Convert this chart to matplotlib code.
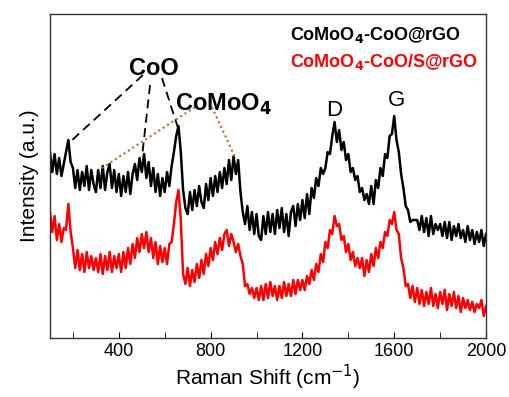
import numpy as np
import matplotlib
matplotlib.use("Agg")
import matplotlib.pyplot as plt

plt.rcParams['font.family'] = ['Liberation Sans', 'DejaVu Sans']

# Raman shift grid (cm-1), 10 cm-1 steps
shift = np.arange(100, 2001, 10)

# CoMoO4-CoO@rGO (black), intensity (a.u.)
black = [
    186, 166, 184, 164, 180, 162, 174, 186, 198, 176,
    170, 150, 168, 148, 166, 152, 172, 148, 168, 154,
    146, 168, 150, 172, 148, 166, 174, 150, 168, 146,
    164, 142, 162, 146, 166, 144, 164, 174, 158, 180,
    166, 184, 160, 176, 152, 170, 146, 164, 142, 160,
    146, 166, 152, 172, 186, 202, 212, 186, 148, 130,
    124, 146, 128, 148, 132, 152, 136, 130, 154, 138,
    160, 142, 162, 146, 166, 150, 170, 154, 178, 158,
    182, 164, 178, 146, 126, 114, 132, 108, 126, 104,
    124, 102, 98, 122, 104, 126, 106, 124, 104, 128,
    110, 130, 106, 124, 102, 126, 132, 112, 134, 118,
    138, 120, 144, 124, 150, 140, 160, 152, 170, 164,
    170, 186, 184, 202, 216, 196, 208, 188, 196, 178,
    184, 166, 170, 158, 162, 146, 150, 138, 144, 134,
    152, 134, 158, 150, 170, 162, 184, 180, 202, 204,
    222, 198, 186, 164, 150, 132, 128, 116, 118, 118,
    118, 108, 122, 106, 120, 102, 122, 104, 114, 108,
    114, 102, 116, 100, 116, 98, 112, 102, 114, 100,
    108, 96, 112, 98, 108, 94, 106, 96, 108, 92,
    104,
]

# CoMoO4-CoO/S@rGO (red)
red = [
    126, 106, 122, 98, 114, 96, 110, 108, 134, 106,
    90, 70, 88, 68, 84, 66, 86, 70, 82, 68,
    80, 66, 84, 64, 82, 68, 86, 66, 82, 70,
    84, 66, 86, 70, 90, 74, 94, 80, 100, 86,
    104, 90, 106, 86, 100, 80, 96, 74, 92, 76,
    90, 74, 94, 96, 114, 136, 148, 118, 64, 54,
    70, 52, 68, 56, 74, 60, 78, 64, 84, 72,
    90, 78, 96, 84, 100, 88, 104, 108, 92, 104,
    96, 86, 94, 82, 74, 52, 54, 44, 50, 40,
    50, 38, 52, 38, 54, 40, 56, 42, 52, 38,
    52, 40, 56, 42, 54, 42, 58, 44, 58, 48,
    58, 48, 62, 54, 68, 58, 74, 66, 84, 76,
    96, 90, 108, 104, 122, 112, 114, 98, 102, 86,
    94, 78, 86, 72, 80, 70, 80, 62, 78, 66,
    84, 72, 90, 80, 96, 90, 106, 102, 118, 114,
    126, 108, 104, 80, 70, 52, 54, 40, 52, 36,
    50, 34, 48, 32, 46, 34, 50, 32, 44, 30,
    46, 34, 48, 28, 44, 32, 46, 30, 42, 26,
    40, 30, 38, 28, 36, 26, 34, 30, 38, 22,
    32,
]

# guide lines from labels to peaks (data coords)
coo_lines = [([505, 187], [263, 196]), ([536, 501], [253, 181]), ([588, 658], [260, 210])]
como_lines = [([732, 327], [231, 170]), ([806, 906], [231, 181])]

fig = plt.figure(figsize=(5.1, 3.97), dpi=100)
ax = fig.add_axes([0.098, 0.1486, 0.855, 0.816])

ax.plot(shift, black, color='black', lw=1.8)
ax.plot(shift, red, color='#ff0000', lw=1.8)

for xs, ys in coo_lines:
    ax.plot(xs, ys, color='black', lw=1.3, ls=(0, (5, 3)))
for xs, ys in como_lines:
    ax.plot(xs, ys, color='#c8641e', lw=1.5, ls=(0, (1, 1.5)))

ax.text(553, 270, 'CoO', fontsize=17, fontweight='bold', ha='center', va='center')
ax.text(645, 234, r'CoMoO$_\mathbf{4}$', fontsize=17, fontweight='bold', ha='left', va='center')
ax.text(1338, 228, 'D', fontsize=16, ha='center', va='center')
ax.text(1612, 238, 'G', fontsize=16, ha='center', va='center')
ax.text(1146, 303, r'CoMoO$_\mathbf{4}$-CoO@rGO', fontsize=13, fontweight='bold',
        ha='left', va='center', color='black')
ax.text(1146, 276, r'CoMoO$_\mathbf{4}$-CoO/S@rGO', fontsize=13, fontweight='bold',
        ha='left', va='center', color='#ff0000')

ax.set_xlim(100, 2000)
ax.set_ylim(0, 324)
ax.set_xticks([400, 800, 1200, 1600, 2000])
ax.set_xticks([200, 600, 1000, 1400, 1800], minor=True)
ax.set_yticks([])
ax.tick_params(axis='x', which='both', direction='in', length=4, labelsize=13, top=False)
for s in ax.spines.values():
    s.set_color('#333333')
    s.set_linewidth(1.0)

ax.set_xlabel(r'Raman Shift (cm$^{-1}$)', fontsize=15, labelpad=2)
ax.set_ylabel('Intensity (a.u.)', fontsize=15, labelpad=8)

fig.savefig('out.png', dpi=100)
